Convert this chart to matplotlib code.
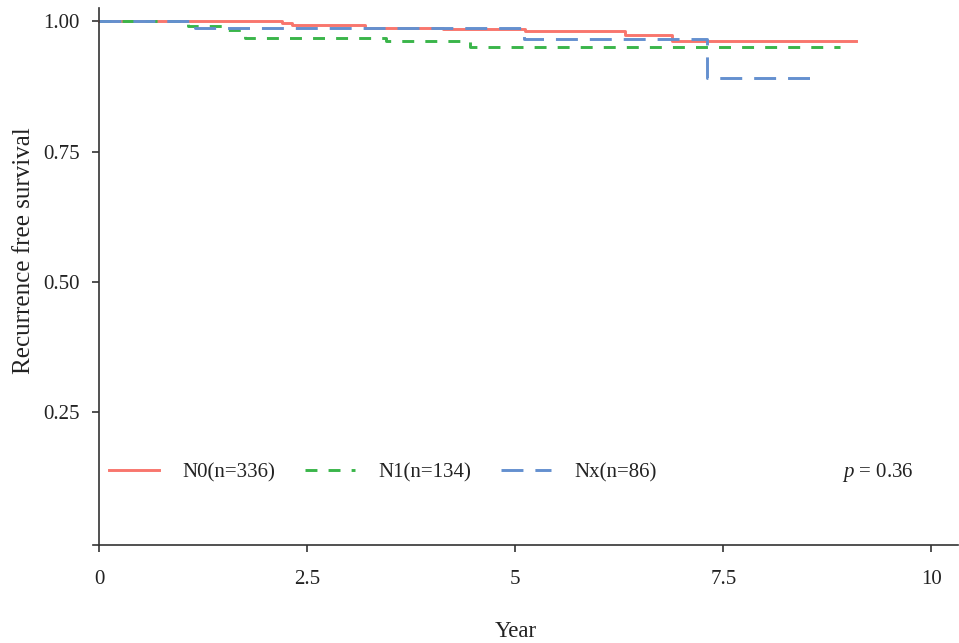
import matplotlib
matplotlib.use('Agg')
import matplotlib.pyplot as plt

# Kaplan-Meier step data
years_n0 = [0, 2.2, 2.32, 3.2, 4.13, 5.12, 6.32, 6.88, 9.1]
surv_n0 = [1.0, 0.997, 0.993, 0.987, 0.985, 0.981, 0.973, 0.962, 0.962]

years_n1 = [0, 1.07, 1.55, 1.76, 3.45, 4.46, 8.9]
surv_n1 = [1.0, 0.991, 0.983, 0.968, 0.961, 0.951, 0.951]

years_nx = [0, 1.15, 5.1, 7.3, 8.6]
surv_nx = [1.0, 0.986, 0.965, 0.891, 0.891]

group_labels = ['N0(n=336)', 'N1(n=134)', 'Nx(n=86)']
x_ticks = [0, 2.5, 5, 7.5, 10]
x_ticklabels = ['0', '2.5', '5', '7.5', '10']
y_ticks = [0.25, 0.50, 0.75, 1.00]
y_ticklabels = ['0.25', '0.50', '0.75', '1.00']
p_value = 0.36

plt.rcParams['font.family'] = ['Liberation Serif', 'DejaVu Serif']
plt.rcParams['mathtext.fontset'] = 'custom'
plt.rcParams['mathtext.it'] = 'Liberation Serif:italic'
plt.rcParams['mathtext.rm'] = 'Liberation Serif'
plt.rcParams['lines.scale_dashes'] = False

fig = plt.figure(figsize=(9.59, 6.43), dpi=100)
ax = fig.add_axes([93 / 959, 1 - 545 / 643, 865 / 959, 537 / 643])

lw = 2.1
ax.step(years_n0, surv_n0, where='post', color='#F8766D', lw=lw,
        label=group_labels[0])
ax.step(years_n1, surv_n1, where='post', color='#3AB54A', lw=lw,
        linestyle=(0, (8.6, 8.0)), label=group_labels[1])
ax.step(years_nx, surv_nx, where='post', color='#6490CF', lw=lw,
        linestyle=(0, (15.8, 8.6)), label=group_labels[2])

ax.set_xlim(-0.072, 10.32)
ax.set_ylim(-0.004, 1.025)

ax.spines['top'].set_visible(False)
ax.spines['right'].set_visible(False)
ax.spines['left'].set_position(('data', 0))
for s in ['left', 'bottom']:
    ax.spines[s].set_color('#333333')
    ax.spines[s].set_linewidth(1.2)

ax.set_xticks(x_ticks)
ax.set_xticklabels(x_ticklabels)
ax.set_yticks(y_ticks)
ax.set_yticklabels(y_ticklabels)
ax.tick_params(axis='both', direction='out', length=5, width=1.2,
               color='#333333', labelsize=15, labelcolor='#222222', pad=9)
ax.tick_params(axis='x', pad=13)

ax.set_xlabel('Year', fontsize=16.5, color='#222222')
ax.xaxis.set_label_coords((516 - 93) / 865, -(621 - 545) / 537)
ax.set_ylabel('Recurrence free survival', fontsize=18, color='#222222')
ax.yaxis.set_label_coords(-(93 - 35) / 865, (545 - 251) / 537)

ax.legend(loc='center left', bbox_to_anchor=(0.018, 0.135), frameon=False,
          ncol=3, fontsize=15, handlelength=2.4, handletextpad=1.15,
          columnspacing=1.4, borderpad=0, borderaxespad=0,
          labelcolor='#222222')

ax.text((842 - 93) / 865, 0.135, r'$p$ = ' + str(p_value), transform=ax.transAxes,
        fontsize=15, va='center', ha='left', color='#222222')

fig.savefig('out.png', dpi=100)
